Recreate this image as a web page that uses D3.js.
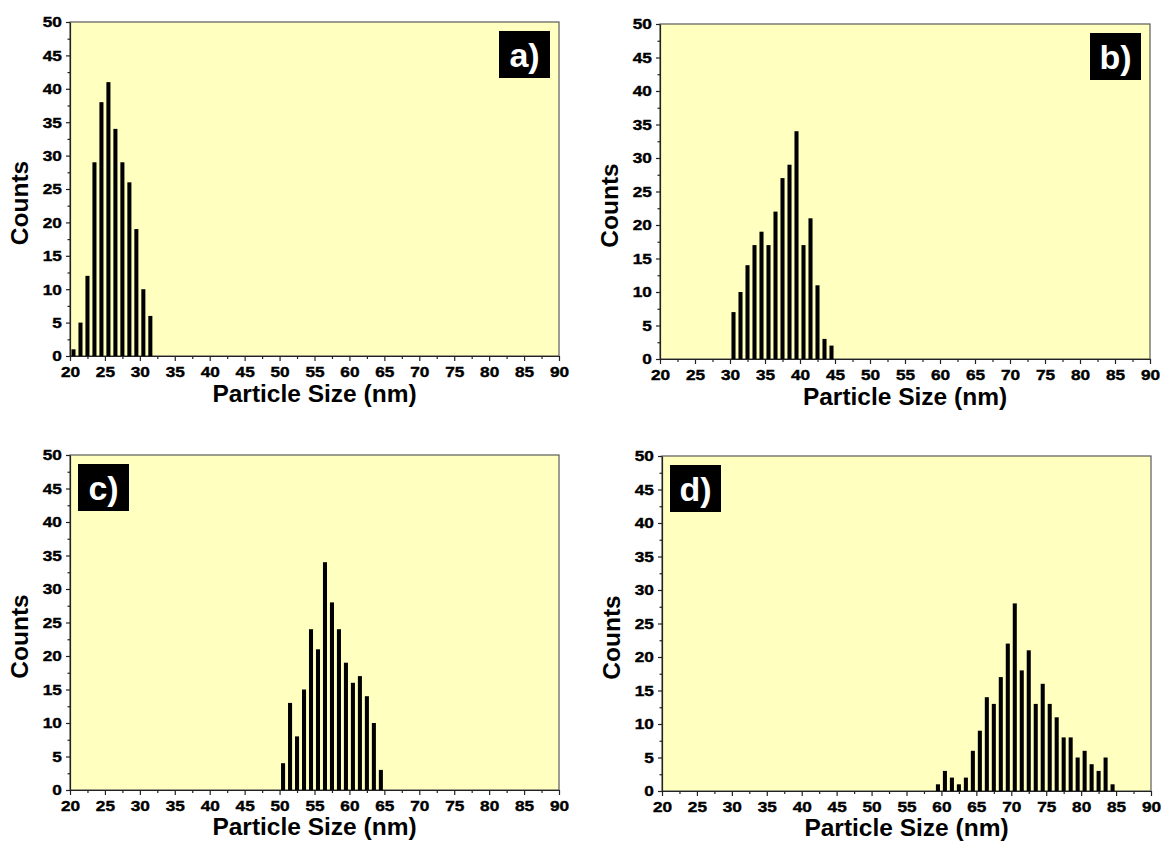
<!DOCTYPE html>
<html>
<head>
<meta charset="utf-8">
<script src="https://cdn.jsdelivr.net/npm/d3@7"></script>
<style>
  body { margin: 0; background: #ffffff; }
  svg { display: block; }
  text { font-family: "Liberation Sans", Arial, sans-serif; font-weight: bold; }
</style>
</head>
<body>
<svg id="chart" width="1163" height="845"></svg>
<script>
// Particle size histograms (bin centres in nm, counts per bin)
const sizesA  = [20.5, 21.5, 22.5, 23.5, 24.5, 25.5, 26.5, 27.5, 28.5, 29.5, 30.5, 31.5];
const countsA = [1, 5, 12, 29, 38, 41, 34, 29, 26, 19, 10, 6];

const sizesB  = [30.5, 31.5, 32.5, 33.5, 34.5, 35.5, 36.5, 37.5, 38.5, 39.5, 40.5, 41.5, 42.5, 43.5, 44.5];
const countsB = [7, 10, 14, 17, 19, 17, 22, 27, 29, 34, 17, 21, 11, 3, 2];

const sizesC  = [50.5, 51.5, 52.5, 53.5, 54.5, 55.5, 56.5, 57.5, 58.5, 59.5, 60.5, 61.5, 62.5, 63.5, 64.5];
const countsC = [4, 13, 8, 15, 24, 21, 34, 28, 24, 19, 16, 17, 14, 10, 3];

const sizesD  = [59.5, 60.5, 61.5, 62.5, 63.5, 64.5, 65.5, 66.5, 67.5, 68.5, 69.5, 70.5, 71.5,
                 72.5, 73.5, 74.5, 75.5, 76.5, 77.5, 78.5, 79.5, 80.5, 81.5, 82.5, 83.5, 84.5];
const countsD = [1, 3, 2, 1, 2, 6, 9, 14, 13, 17, 22, 28, 18, 21, 13, 16, 13, 11, 8, 8, 5, 6, 4, 3, 5, 1];

// Axis ticks
const xTicks = [20, 25, 30, 35, 40, 45, 50, 55, 60, 65, 70, 75, 80, 85, 90];
const xMinor = [22.5, 27.5, 32.5, 37.5, 42.5, 47.5, 52.5, 57.5, 62.5, 67.5, 72.5, 77.5, 82.5, 87.5];
const yTicks = [0, 5, 10, 15, 20, 25, 30, 35, 40, 45, 50];
const yMinor = [2.5, 7.5, 12.5, 17.5, 22.5, 27.5, 32.5, 37.5, 42.5, 47.5];

const panelLabels = ["a)", "b)", "c)", "d)"];

// Panel frames, title offsets and label box placement
const panels = [
  { label: panelLabels[0], sizes: sizesA, counts: countsA, l: 70,  r: 559,  t: 22,  b: 356, titleDy: 46, tag: "right" },
  { label: panelLabels[1], sizes: sizesB, counts: countsB, l: 660, r: 1150, t: 24,  b: 359, titleDy: 46, tag: "right" },
  { label: panelLabels[2], sizes: sizesC, counts: countsC, l: 70,  r: 559,  t: 455, b: 790, titleDy: 45, tag: "left" },
  { label: panelLabels[3], sizes: sizesD, counts: countsD, l: 662, r: 1151, t: 456, b: 791, titleDy: 45, tag: "left" }
];

const svg = d3.select("#chart");
const binWidth = 0.58;
const tickStretch = 1.15;   // wide, heavy tick numerals

function styleTickText(sel) {
  sel.attr("font-size", 15).attr("fill", "#000")
    .attr("stroke", "#000").attr("stroke-width", 0.4)
    .style("font-family", "'Liberation Sans', Arial, sans-serif").style("font-weight", "bold");
}

panels.forEach(p => {
  const x = d3.scaleLinear().domain([20, 90]).range([p.l, p.r]);
  const y = d3.scaleLinear().domain([0, 50]).range([p.b, p.t]);
  const g = svg.append("g");

  // plot background
  g.append("rect")
    .attr("x", p.l).attr("y", p.t)
    .attr("width", p.r - p.l).attr("height", p.b - p.t)
    .attr("fill", "#ffffc0")
    .attr("stroke", "#5a5a5a")
    .attr("stroke-width", 1.2);

  // histogram bars
  g.selectAll("rect.bar")
    .data(p.sizes.map((s, i) => ({ s, c: p.counts[i] })))
    .join("rect")
    .attr("class", "bar")
    .attr("x", d => x(d.s - binWidth / 2))
    .attr("width", d => x(d.s + binWidth / 2) - x(d.s - binWidth / 2))
    .attr("y", d => y(d.c))
    .attr("height", d => y(0) - y(d.c))
    .attr("fill", "#000");

  // bottom axis
  const xa = g.append("g").attr("transform", `translate(0,${p.b})`)
    .call(d3.axisBottom(x).tickValues(xTicks).tickSize(5).tickPadding(5).tickSizeOuter(0));
  xa.select(".domain").attr("stroke", "#222").attr("stroke-width", 1.2);
  xa.selectAll(".tick line").attr("stroke", "#222").attr("stroke-width", 1.2);
  styleTickText(xa.selectAll("text"));
  xa.selectAll(".tick text").attr("transform", `scale(${tickStretch},1)`);
  g.append("g").attr("transform", `translate(0,${p.b})`)
    .call(d3.axisBottom(x).tickValues(xMinor).tickSize(3).tickFormat(""))
    .call(s => s.select(".domain").remove())
    .selectAll(".tick line").attr("stroke", "#222").attr("stroke-width", 1.2);

  // left axis
  const ya = g.append("g").attr("transform", `translate(${p.l},0)`)
    .call(d3.axisLeft(y).tickValues(yTicks).tickSize(4).tickPadding(3).tickSizeOuter(0));
  ya.select(".domain").attr("stroke", "#222").attr("stroke-width", 1.2);
  ya.selectAll(".tick line").attr("stroke", "#222").attr("stroke-width", 1.2);
  styleTickText(ya.selectAll("text"));
  ya.selectAll(".tick text").attr("transform", `scale(${tickStretch},1)`);
  g.append("g").attr("transform", `translate(${p.l},0)`)
    .call(d3.axisLeft(y).tickValues(yMinor).tickSize(2.5).tickFormat(""))
    .call(s => s.select(".domain").remove())
    .selectAll(".tick line").attr("stroke", "#222").attr("stroke-width", 1.2);

  // axis titles
  g.append("text")
    .attr("x", (p.l + p.r) / 2).attr("y", p.b + p.titleDy)
    .attr("text-anchor", "middle")
    .attr("font-size", 24.5)
    .text("Particle Size (nm)");
  g.append("text")
    .attr("transform", `translate(${p.l - 42},${(p.t + p.b) / 2 + 14}) rotate(-90)`)
    .attr("text-anchor", "middle")
    .attr("font-size", 24.5)
    .text("Counts");

  // panel label box
  const bw = 51, bh = 47;
  const bx = p.tag === "right" ? p.r - 60 : p.l + 8;
  const by = p.t + 9;
  g.append("rect").attr("x", bx).attr("y", by).attr("width", bw).attr("height", bh).attr("fill", "#000");
  g.append("text")
    .attr("x", bx + bw / 2).attr("y", by + bh / 2 + 12)
    .attr("text-anchor", "middle")
    .attr("font-size", 34)
    .attr("fill", "#fff")
    .text(p.label);
});
</script>
</body>
</html>
